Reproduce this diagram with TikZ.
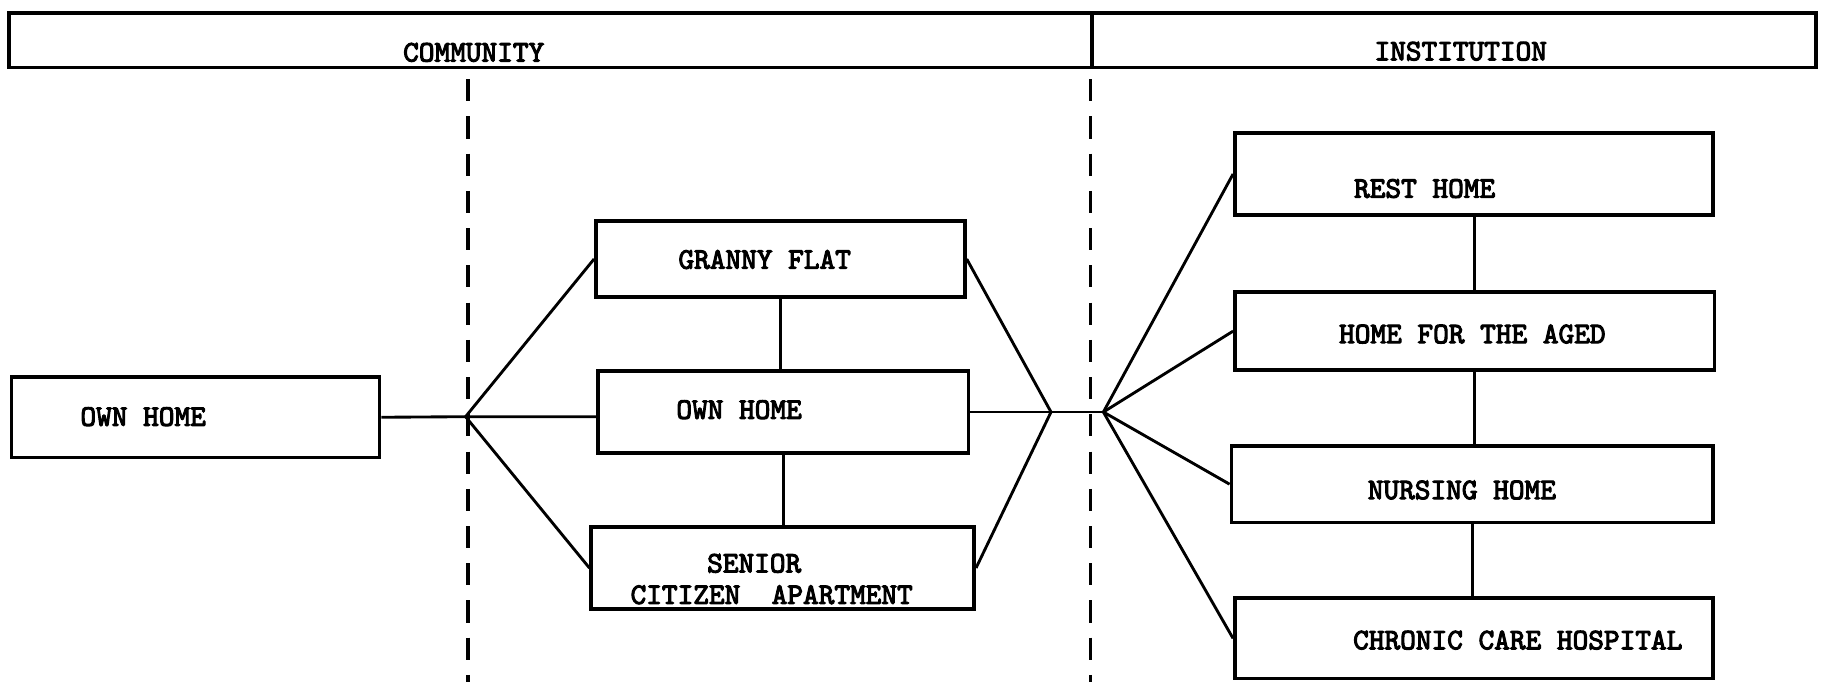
\documentclass[tikz,border=0pt]{standalone}
\usepackage{fontspec}
\newfontfamily\typerfont{lmmono10-regular.otf}[FakeBold=3.5]
\usepackage{tikz}
\usetikzlibrary{fit}

\begin{document}
\begin{tikzpicture}[x=0.02cm, y=-0.02cm]

    % --- Global Settings ---
    \tikzset{
        boxstyle/.style={draw, line width=1.8pt, inner sep=0pt},
        linkstyle/.style={line width=1.4pt},
        divider/.style={line width=1.8pt, dash pattern=on 0.38cm off 0.26cm},
        labelstyle/.style={font=\typerfont\fontsize{14.6}{17}\selectfont, inner sep=0pt}
    }

    \useasboundingbox (0,0) rectangle (1568,586);

    % --- Header band ---
    \node[boxstyle, fit={(8,11) (938,58)}] (community) {};
    \node[boxstyle, fit={(938,11) (1560,58)}] (institution) {};
    \node[labelstyle] (t-community) at (407,45) {COMMUNITY};
    \node[labelstyle] (t-institution) at (1255,44) {INSTITUTION};

    % --- Dashed dividers ---
    \draw[divider] (402,68) -- (402,586);
    \draw[divider] (937,68) -- (937,586);

    % --- Community boxes ---
    \node[boxstyle, fit={(10,324) (326,393)}] (ownL) {};
    \node[boxstyle, fit={(512,190) (829,255)}] (granny) {};
    \node[boxstyle, fit={(514,319) (832,389)}] (ownM) {};
    \node[boxstyle, fit={(508,453) (837,523)}] (senior) {};

    \node[labelstyle] (t-ownL) at (123,358) {OWN HOME};
    \node[labelstyle] (t-granny) at (657,223) {GRANNY FLAT};
    \node[labelstyle] (t-ownM) at (635,352) {OWN HOME};
    \node[labelstyle] (t-senior1) at (648,484) {SENIOR};
    \node[labelstyle] (t-senior2) at (663,511) {CITIZEN~~APARTMENT};

    % --- Institution boxes ---
    \node[boxstyle, fit={(1061,114) (1472,185)}] (rest) {};
    \node[boxstyle, fit={(1061,251) (1473,318)}] (aged) {};
    \node[boxstyle, fit={(1058,383) (1472,449)}] (nursing) {};
    \node[boxstyle, fit={(1061,514) (1472,583)}] (chronic) {};

    \node[labelstyle] (t-rest) at (1224,162) {REST HOME};
    \node[labelstyle] (t-aged) at (1265,287) {HOME FOR THE AGED};
    \node[labelstyle] (t-nursing) at (1256,421) {NURSING HOME};
    \node[labelstyle] (t-chronic) at (1304,550) {CHRONIC CARE HOSPITAL};

    % --- Junctions ---
    \coordinate (jl) at (400,358);
    \coordinate (jr1) at (903,354);
    \coordinate (jr2) at (948,354);

    % --- Connectors ---
    \draw[linkstyle] (ownL.east) -- (jl) -- (jl -| ownM.west);
    \draw[linkstyle] (ownM.east) -- (jr1) -- (jr2);

    \foreach \b in {granny, senior} {
        \draw[linkstyle] (jl) -- (\b.west);
        \draw[linkstyle] (jr1) -- (\b.east);
    }

    \foreach \b in {rest, aged, nursing, chronic} {
        \draw[linkstyle] (jr2) -- (\b.west);
    }

    \foreach \a/\b in {granny/ownM, ownM/senior, rest/aged, aged/nursing, nursing/chronic} {
        \draw[linkstyle] (\a.south) -- (\a.south |- \b.north);
    }

\end{tikzpicture}
\end{document}
